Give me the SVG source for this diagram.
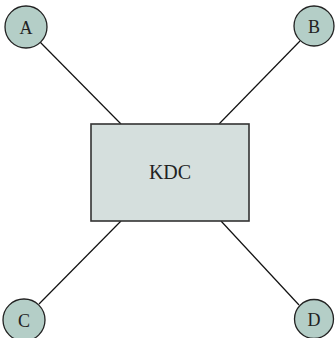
<svg xmlns="http://www.w3.org/2000/svg" width="335" height="338" viewBox="0 0 335 338">
<style>
.n{fill:#b4cec7;stroke:#222;stroke-width:1.3}
.b{fill:#d5dfdd;stroke:#333;stroke-width:1.6}
.t{font-family:"Liberation Serif",serif;font-size:18px;fill:#222;text-anchor:middle;dominant-baseline:central}
.k{font-size:20px}
.c line{stroke:#111;stroke-width:1.2}
</style>
<g class="c" id="connectors">
<line x1="40" y1="42" x2="121" y2="124"/>
<line x1="300" y1="41" x2="219" y2="124"/>
<line x1="121" y1="221" x2="39" y2="304"/>
<line x1="221" y1="221" x2="299" y2="305"/>
</g>
<g id="KDC"><rect class="b" x="91" y="124" width="158" height="97"/><text class="t k" x="170" y="172">KDC</text></g>
<g id="A"><circle class="n" cx="26" cy="27" r="21"/><text class="t" x="26" y="28">A</text></g>
<g id="B"><circle class="n" cx="314" cy="26" r="20"/><text class="t" x="314" y="27">B</text></g>
<g id="C"><circle class="n" cx="24" cy="320" r="21"/><text class="t" x="24" y="321">C</text></g>
<g id="D"><circle class="n" cx="314" cy="319" r="19.5"/><text class="t" x="314" y="320">D</text></g>
</svg>
